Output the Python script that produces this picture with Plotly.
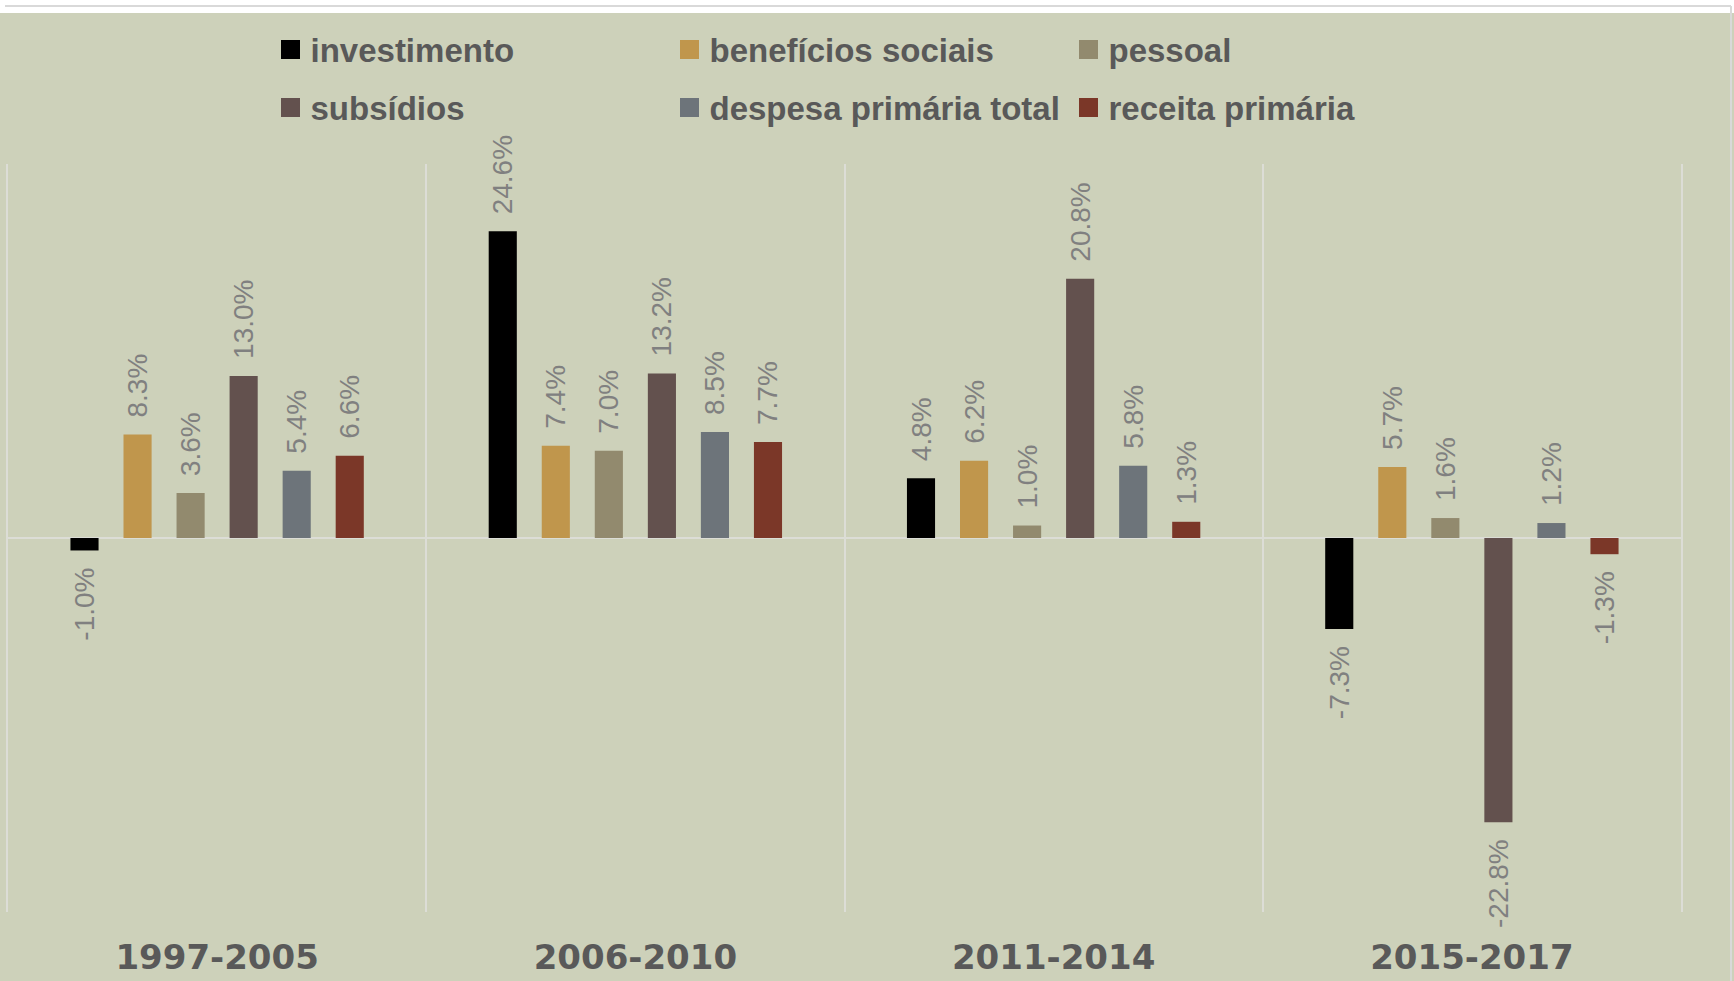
import plotly.graph_objects as go

periods = ["1997-2005", "2006-2010", "2011-2014", "2015-2017"]
series_names = ["investimento", "benefícios sociais", "pessoal",
                "subsídios", "despesa primária total", "receita primária"]
investimento = [-1.0, 24.6, 4.8, -7.3]
beneficios = [8.3, 7.4, 6.2, 5.7]
pessoal = [3.6, 7.0, 1.0, 1.6]
subsidios = [13.0, 13.2, 20.8, -22.8]
despesa = [5.4, 8.5, 5.8, 1.2]
receita = [6.6, 7.7, 1.3, -1.3]
colors = ["#000000", "#C0964C", "#928A6E", "#63514E", "#6D747A", "#7B3728"]

all_values = [investimento, beneficios, pessoal, subsidios, despesa, receita]

BG = "#CDD1BA"
GRID = "#DCDDD6"
W, H = 1734, 981
ML, MR, MT, MB = 8, 53, 164, 69
PW = W - ML - MR
PH = H - MT - MB


def px_x(X):
    return (X - ML) / PW


def px_y(Y):
    return (H - MB - Y) / PH


def label(v):
    s = f"{v:.1f}%"
    return ("\u2002" + s) if v >= 0 else (s + "\u2002")


fig = go.Figure()
for name, vals, col in zip(series_names, all_values, colors):
    fig.add_trace(go.Bar(
        x=periods, y=vals, name=name, marker=dict(color=col, line=dict(width=0)),
        text=[label(v) for v in vals], textposition="outside", textangle=-90,
        textfont=dict(family="Liberation Sans, Arial, sans-serif", size=28, color="#808080"),
        constraintext="none", cliponaxis=False, showlegend=False,
    ))

# legend entries (two rows of three)
for i, (name, col) in enumerate(zip(series_names, colors)):
    fig.add_trace(go.Scatter(
        x=[None], y=[None], mode="markers", name=name,
        marker=dict(symbol="square", size=16, color=col, line=dict(width=3, color=col)),
        legend="legend" if i < 3 else "legend2", showlegend=True, hoverinfo="skip",
    ))

legend_font = dict(family="Liberation Sans, Arial, sans-serif", size=33, color="#595959", weight="bold")

fig.update_layout(
    width=W, height=H,
    margin=dict(l=ML, r=MR, t=MT, b=MB, autoexpand=False),
    paper_bgcolor=BG, plot_bgcolor=BG,
    barmode="group", bargap=0.239, bargroupgap=0.47,
    legend=dict(orientation="h", x=px_x(270.5), xanchor="left", y=px_y(49.5), yanchor="middle",
                entrywidth=354, entrywidthmode="pixels", bgcolor="rgba(0,0,0,0)",
                font=legend_font, traceorder="normal"),
    legend2=dict(orientation="h", x=px_x(270.5), xanchor="left", y=px_y(107.5), yanchor="middle",
                 entrywidth=354, entrywidthmode="pixels", bgcolor="rgba(0,0,0,0)",
                 font=legend_font, traceorder="normal"),
    xaxis=dict(type="category", categoryorder="array", categoryarray=periods,
               range=[-0.5, 3.5], tickson="boundaries", showgrid=True, gridcolor=GRID,
               gridwidth=1.5, ticks="", showline=False, zeroline=False,
               ticklabelstandoff=22,
               tickfont=dict(family="DejaVu Sans, sans-serif", size=34, color="#595959", weight="bold")),
    yaxis=dict(range=[-30, 30], showticklabels=False, showgrid=False, ticks="",
               zeroline=True, zerolinecolor=GRID, zerolinewidth=2,
               showline=True, mirror=True, linecolor=GRID, linewidth=1.5),
    shapes=[
        dict(type="rect", xref="paper", yref="paper", x0=-1, x1=2, y0=px_y(13), y1=2,
             fillcolor="#FFFFFF", line=dict(width=0), layer="below"),
        dict(type="line", xref="paper", yref="paper", x0=px_x(5), x1=px_x(1731),
             y0=px_y(6), y1=px_y(6), line=dict(color="#D9D9D9", width=2)),
        dict(type="line", xref="paper", yref="paper", x0=px_x(1731), x1=px_x(1731),
             y0=px_y(990), y1=px_y(6), line=dict(color="#D9D9D9", width=2)),
    ],
)

fig.write_html("out.html")
